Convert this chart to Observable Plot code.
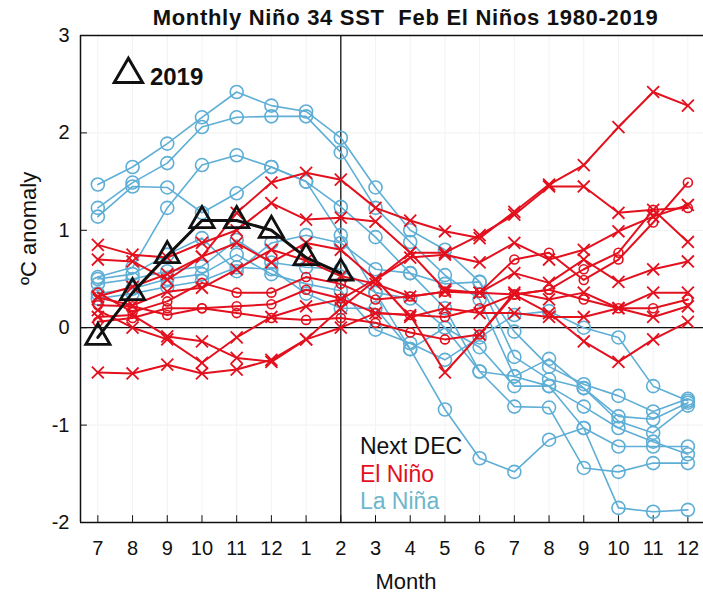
<!DOCTYPE html>
<html><head><meta charset="utf-8">
<script src="https://cdn.jsdelivr.net/npm/d3@7"></script>
<script src="https://cdn.jsdelivr.net/npm/@observablehq/plot@0.6"></script>
<style>
body{margin:0;background:#fff;font-family:"Liberation Sans",Arial,sans-serif;}
#title{height:20px;width:595px;padding-left:108px;text-align:center;font-weight:bold;font-size:22px;letter-spacing:0.7px;line-height:36px;color:#111;white-space:nowrap;position:relative;z-index:1;}
#chart svg{display:block;}
</style></head><body>
<div id="title">Monthly Niño 34 SST&nbsp; Feb El Niños 1980-2019</div>
<div id="chart"></div>
<script>
// x positions: Jul(yr0) .. Dec(yr1)
const monthLabels = [7,8,9,10,11,12,1,2,3,4,5,6,7,8,9,10,11,12];
const yTicks = [-2,-1,0,1,2,3];

// 2019 (Jul 2018 - Feb 2019)
const nino2019 = [-0.10, 0.36, 0.74, 1.10, 1.10, 1.00, 0.72, 0.56];

// El Niño next December (red)
const elNino1 = [0.32, 0.42, 0.55, 0.73, 1.18, 1.49, 1.59, 1.52, 1.23, 1.10, 0.99, 0.92, 1.19, 1.47, 1.67, 2.06, 2.42, 2.28];
const elNino2 = [0.85, 0.75, 0.72, 0.87, 1.00, 1.28, 1.11, 1.13, 1.09, 0.77, 0.77, 0.95, 1.16, 1.45, 1.45, 1.18, 1.21, 0.88];
const elNino3 = [0.70, 0.68, 0.49, 0.73, 0.87, 0.67, 0.87, 0.80, 0.49, 0.72, 0.75, 0.67, 0.87, 0.70, 0.80, 0.99, 1.14, 1.26];
const elNino4 = [0.36, 0.16, 0.27, 0.46, 0.36, 0.36, 0.52, 0.45, 0.29, 0.32, 0.37, 0.36, 0.70, 0.77, 0.49, 0.70, 1.08, 1.49];
const elNino5 = [0.23, 0.22, 0.13, 0.20, 0.22, 0.24, 0.39, 0.30, 0.15, 0.13, 0.11, 0.20, 0.34, 0.39, 0.60, 0.77, 1.21, 1.23];
const elNino6 = [0.11, 0.13, -0.09, -0.14, -0.31, -0.35, -0.12, 0.20, 0.49, 0.77, 0.39, 0.36, 0.56, 0.46, 0.70, 0.47, 0.60, 0.68];
const elNino7 = [-0.46, -0.47, -0.38, -0.47, -0.43, -0.33, -0.12, 0.00, 0.15, 0.13, -0.46, -0.07, 0.36, 0.29, 0.36, 0.20, 0.36, 0.36];
const elNino8 = [0.31, 0.23, 0.37, 0.41, 0.60, 0.80, 0.69, 0.53, 0.45, 0.32, 0.37, 0.36, 0.34, 0.15, -0.14, -0.35, -0.12, 0.06];
const elNino9 = [0.18, 0.00, -0.12, -0.36, -0.10, 0.11, 0.22, 0.29, 0.50, 0.11, 0.20, 0.15, 0.15, 0.11, 0.11, 0.20, 0.11, 0.22];
const elNino10 = [0.06, 0.10, 0.20, 0.20, 0.15, 0.10, 0.08, 0.10, 0.05, -0.05, -0.12, -0.07, 0.34, 0.39, 0.29, 0.20, 0.20, 0.29];
const elNinoSymbols = ["times","times","times","circle","circle","times","times","times","times","circle"];

// La Niña next December (blue)
const laNina1 = [1.47, 1.65, 1.89, 2.16, 2.42, 2.28, 2.22, 1.95, 1.44, 1.00, 0.80, 0.47, -0.30, -0.53, -0.62, -0.91, -0.94, -0.77];
const laNina2 = [1.23, 1.49, 1.69, 2.06, 2.16, 2.17, 2.17, 1.80, 1.23, 0.88, 0.54, 0.29, -0.50, -0.60, -0.81, -1.03, -1.17, -1.30];
const laNina3 = [1.14, 1.45, 1.44, 1.18, 1.38, 1.65, 1.50, 1.24, 0.93, 0.56, 0.20, -0.45, -0.81, -0.82, -1.44, -1.48, -1.39, -1.39];
const laNina4 = [0.52, 0.62, 1.23, 1.67, 1.77, 1.65, 1.50, 0.95, 0.36, -0.22, -0.84, -1.34, -1.48, -1.15, -1.03, -1.85, -1.89, -1.87];
const laNina5 = [0.50, 0.55, 0.75, 0.92, 0.58, 0.87, 0.95, 0.87, 0.60, 0.56, 0.45, 0.47, -0.04, -0.40, -0.58, -0.70, -0.86, -0.73];
const laNina6 = [0.45, 0.50, 0.58, 0.63, 0.90, 0.67, 0.62, 0.60, 0.36, 0.30, 0.00, -0.20, -0.60, -0.60, -1.03, -1.22, -1.22, -1.22];
const laNina7 = [0.35, 0.40, 0.50, 0.55, 0.75, 0.55, 0.45, 0.38, -0.02, -0.16, -0.33, -0.10, 0.13, 0.17, 0.00, -0.10, -0.60, -0.75];
const laNina8 = [0.30, 0.35, 0.42, 0.48, 0.62, 0.60, 0.35, 0.20, 0.20, -0.22, 0.00, -0.45, -0.50, -0.32, -0.62, -0.96, -1.08, -0.80];

const legendLabels = ["Next DEC", "El Niño", "La Niña"];
const legendColors = ["#111111", "#e3101e", "#6db6cc"];
const annotation = ["2019"];
const xTitle = ["Month"];
const yTitle = ["ºC anomaly"];

const RED = "#e3101e", BLUE = "#5eaed6";

const elNino = [elNino1, elNino2, elNino3, elNino4, elNino5, elNino6, elNino7, elNino8, elNino9, elNino10];
const laNina = [laNina1, laNina2, laNina3, laNina4, laNina5, laNina6, laNina7, laNina8];

const redRows = [], blueRows = [];
elNino.forEach((s, k) => s.forEach((v, i) => redRows.push({series: "E" + k, sym: elNinoSymbols[k], i, v})));
laNina.forEach((s, k) => s.forEach((v, i) => blueRows.push({series: "L" + k, i, v})));
const rows2019 = nino2019.map((v, i) => ({i, v}));
const idx = monthLabels.map((m, i) => i);

const chart = Plot.plot({
  width: 703, height: 577,
  marginTop: 15, marginBottom: 75, marginLeft: 80, marginRight: 0,
  style: {fontFamily: "'Liberation Sans', Arial, sans-serif", fontSize: "20px", color: "#111", background: "transparent"},
  x: {domain: [-0.5, 17.45], label: null},
  y: {domain: [-2, 3], label: null},
  marks: [
    Plot.ruleY(yTicks, {stroke: "#f0f0f0", strokeWidth: 1}),
    Plot.ruleX(idx, {stroke: "#f3f3f3", strokeWidth: 1}),
    Plot.ruleY([0], {stroke: "#111", strokeWidth: 1.3}),
    Plot.ruleX([7], {stroke: "#111", strokeWidth: 1.3}),
    // frame edges
    Plot.ruleY([-2, 3], {stroke: "#111", strokeWidth: 1.5}),
    Plot.ruleX([-0.5], {stroke: "#111", strokeWidth: 1.5}),
    // inward ticks
    Plot.ruleX(idx, {y1: -2, y2: -1.93, stroke: "#111", strokeWidth: 1}),
    Plot.ruleY(yTicks, {x1: -0.5, x2: -0.3, stroke: "#111", strokeWidth: 1}),
    Plot.axisX(idx, {tickSize: 0, tickPadding: 18, tickFormat: i => monthLabels[i], label: null, fontSize: 20}),
    Plot.axisY(yTicks, {tickSize: 0, tickPadding: 11, tickFormat: d => String(d), label: null, fontSize: 20}),
    Plot.text(xTitle, {frameAnchor: "bottom", dx: 14, dy: 66, text: d => d, fontSize: 22, fill: "#111"}),
    Plot.text(yTitle, {frameAnchor: "left", dx: -52, dy: 6, rotate: -90, text: d => d, fontSize: 22, fill: "#111"}),
    // La Niña
    Plot.line(blueRows, {x: "i", y: "v", z: "series", stroke: BLUE, strokeWidth: 1.6}),
    Plot.dot(blueRows, {x: "i", y: "v", r: 6.5, stroke: BLUE, strokeWidth: 1.6, fill: "none"}),
    // El Niño
    Plot.line(redRows, {x: "i", y: "v", z: "series", stroke: RED, strokeWidth: 2}),
    Plot.dot(redRows.filter(d => d.sym === "times"), {x: "i", y: "v", symbol: "times", r: 5.5, stroke: RED, strokeWidth: 1.8}),
    Plot.dot(redRows.filter(d => d.sym === "circle"), {x: "i", y: "v", symbol: "circle", r: 4.5, stroke: RED, strokeWidth: 1.6, fill: "none"}),
    // 2019
    Plot.line(rows2019, {x: "i", y: "v", stroke: "#111", strokeWidth: 3}),
    Plot.dot(rows2019, {x: "i", y: "v", symbol: "triangle", r: 9, stroke: "#111", strokeWidth: 2.8, fill: "none"}),
    // annotation
    Plot.dot(annotation, {x: () => 0.88, y: () => 2.6, symbol: "triangle", r: 10.5, stroke: "#111", strokeWidth: 3, fill: "none"}),
    Plot.text(annotation, {x: () => 1.5, y: () => 2.57, text: d => d, textAnchor: "start", fontWeight: "bold", fontSize: 24, fill: "#111"}),
    // legend
    Plot.text(legendLabels, {x: () => 7.55, y: (d, i) => -1.22 - i * 0.285, text: d => d, textAnchor: "start", fontSize: 23, fill: (d, i) => legendColors[i]})
  ]
});
document.getElementById("chart").appendChild(chart);
</script>
</body></html>
